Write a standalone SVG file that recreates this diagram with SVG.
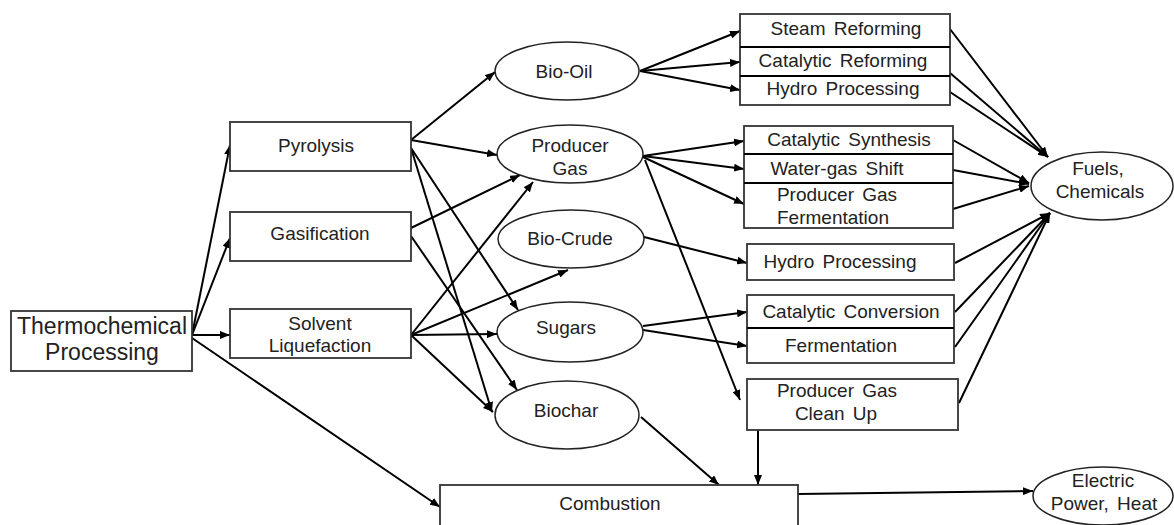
<svg xmlns="http://www.w3.org/2000/svg" width="1174" height="525" viewBox="0 0 1174 525">
  <defs>
    <marker id="arrow" markerUnits="userSpaceOnUse" markerWidth="10" markerHeight="8" refX="10" refY="4" orient="auto">
      <path d="M0,0 L10,4 L0,8 Z" fill="#000"/>
    </marker>
    <style>
      .box { fill: #fff; stroke: #333; stroke-width: 1.8; }
      .oval { fill: #fff; stroke: #222; stroke-width: 1.5; }
      .lbl { font-family: "Liberation Sans", Arial, sans-serif; font-size: 19px; fill: #222; text-anchor: middle; word-spacing: 3px; }
      .big { font-size: 23px; word-spacing: 0; }
      .edge { stroke: #000; stroke-width: 2; fill: none; marker-end: url(#arrow); }
      .plain { stroke: #000; stroke-width: 2; fill: none; }
    </style>
  </defs>
  <rect width="1174" height="525" fill="#fff"/>

  <!-- connectors -->
  <g id="connectors">
    <!-- from Thermochemical Processing -->
    <line class="edge" x1="192" y1="335" x2="230" y2="145"/>
    <line class="edge" x1="192" y1="335" x2="230" y2="238"/>
    <line class="edge" x1="192" y1="335" x2="230" y2="335"/>
    <line class="edge" x1="192" y1="338" x2="440" y2="507"/>
    <!-- from Pyrolysis -->
    <line class="edge" x1="411" y1="140" x2="495" y2="72"/>
    <line class="edge" x1="411" y1="140" x2="497" y2="155"/>
    <line class="edge" x1="411" y1="148" x2="518" y2="310"/>
    <line class="edge" x1="411" y1="148" x2="492" y2="412"/>
    <!-- from Gasification -->
    <line class="edge" x1="411" y1="228" x2="520" y2="175"/>
    <line class="edge" x1="411" y1="236" x2="517" y2="390"/>
    <!-- from Solvent Liquefaction -->
    <line class="edge" x1="411" y1="335" x2="533" y2="182"/>
    <line class="edge" x1="411" y1="335" x2="568" y2="270"/>
    <line class="edge" x1="411" y1="335" x2="497" y2="334"/>
    <line class="edge" x1="411" y1="335" x2="493" y2="412"/>
    <!-- from Bio-Oil -->
    <line class="edge" x1="640" y1="71" x2="740" y2="31"/>
    <line class="edge" x1="640" y1="71" x2="740" y2="62"/>
    <line class="edge" x1="640" y1="71" x2="740" y2="90"/>
    <!-- from Producer Gas -->
    <line class="edge" x1="643" y1="156" x2="744" y2="141"/>
    <line class="edge" x1="643" y1="156" x2="744" y2="169"/>
    <line class="edge" x1="643" y1="157" x2="744" y2="204"/>
    <line class="edge" x1="645" y1="160" x2="740" y2="400"/>
    <!-- from Bio-Crude -->
    <line class="edge" x1="644" y1="237" x2="747" y2="263"/>
    <!-- from Sugars -->
    <line class="edge" x1="643" y1="326" x2="747" y2="312"/>
    <line class="edge" x1="643" y1="330" x2="747" y2="346"/>
    <!-- into Combustion -->
    <line class="edge" x1="641" y1="417" x2="719" y2="485"/>
    <line class="edge" x1="758" y1="430" x2="758" y2="485"/>
    <!-- Combustion to Electric Power, Heat -->
    <line class="edge" x1="798" y1="494" x2="1033" y2="491"/>
    <!-- into Fuels, Chemicals -->
    <line class="edge" x1="950" y1="29" x2="1048" y2="157"/>
    <line class="edge" x1="950" y1="73" x2="1048" y2="157"/>
    <line class="edge" x1="950" y1="92" x2="1048" y2="157"/>
    <line class="edge" x1="953" y1="140" x2="1029" y2="183"/>
    <line class="edge" x1="953" y1="170" x2="1029" y2="184"/>
    <line class="edge" x1="953" y1="209" x2="1029" y2="186"/>
    <line class="edge" x1="955" y1="263" x2="1050" y2="213"/>
    <line class="edge" x1="955" y1="312" x2="1050" y2="213"/>
    <line class="edge" x1="955" y1="347" x2="1050" y2="213"/>
    <line class="edge" x1="959" y1="403" x2="1050" y2="213"/>
  </g>

  <g id="thermochemical-processing">
    <rect class="box" x="11" y="311" width="181" height="60"/>
    <text class="lbl big" x="102" y="334">Thermochemical</text>
    <text class="lbl big" x="102" y="360">Processing</text>
  </g>

  <g id="pyrolysis">
    <rect class="box" x="230" y="122" width="181" height="49"/>
    <text class="lbl" x="316" y="152">Pyrolysis</text>
  </g>
  <g id="gasification">
    <rect class="box" x="230" y="212" width="181" height="49"/>
    <text class="lbl" x="320" y="240">Gasification</text>
  </g>
  <g id="solvent-liquefaction">
    <rect class="box" x="230" y="309" width="181" height="49"/>
    <text class="lbl" x="320" y="330">Solvent</text>
    <text class="lbl" x="320" y="352">Liquefaction</text>
  </g>

  <g id="bio-oil">
    <ellipse class="oval" cx="567" cy="71" rx="72" ry="29"/>
    <text class="lbl" x="564" y="78">Bio-Oil</text>
  </g>
  <g id="producer-gas">
    <ellipse class="oval" cx="570" cy="154" rx="73" ry="29"/>
    <text class="lbl" x="570" y="152">Producer</text>
    <text class="lbl" x="570" y="175">Gas</text>
  </g>
  <g id="bio-crude">
    <ellipse class="oval" cx="571" cy="239" rx="73" ry="29"/>
    <text class="lbl" x="570" y="245">Bio-Crude</text>
  </g>
  <g id="sugars">
    <ellipse class="oval" cx="570" cy="332" rx="73" ry="30"/>
    <text class="lbl" x="566" y="334">Sugars</text>
  </g>
  <g id="biochar">
    <ellipse class="oval" cx="567" cy="415" rx="72" ry="34"/>
    <text class="lbl" x="566" y="417">Biochar</text>
  </g>

  <g id="bio-oil-upgrading">
    <rect class="box" x="740" y="14" width="210" height="91"/>
    <line class="plain" x1="740" y1="47" x2="950" y2="47" stroke-width="1.5"/>
    <line class="plain" x1="740" y1="76" x2="950" y2="76" stroke-width="1.5"/>
    <text class="lbl" x="846" y="35">Steam Reforming</text>
    <text class="lbl" x="843" y="67">Catalytic Reforming</text>
    <text class="lbl" x="843" y="95">Hydro Processing</text>
  </g>

  <g id="producer-gas-upgrading">
    <rect class="box" x="744" y="126" width="209" height="102"/>
    <line class="plain" x1="744" y1="154" x2="953" y2="154" stroke-width="1.5"/>
    <line class="plain" x1="744" y1="183" x2="953" y2="183" stroke-width="1.5"/>
    <text class="lbl" x="849" y="146">Catalytic Synthesis</text>
    <text class="lbl" x="837" y="175">Water-gas Shift</text>
    <text class="lbl" x="837" y="201">Producer Gas</text>
    <text class="lbl" x="833" y="224">Fermentation</text>
  </g>

  <g id="hydro-processing">
    <rect class="box" x="747" y="244" width="207" height="36"/>
    <text class="lbl" x="840" y="268">Hydro Processing</text>
  </g>

  <g id="sugar-upgrading">
    <rect class="box" x="747" y="295" width="207" height="68"/>
    <line class="plain" x1="747" y1="328" x2="954" y2="328" stroke-width="1.5"/>
    <text class="lbl" x="851" y="318">Catalytic Conversion</text>
    <text class="lbl" x="841" y="352">Fermentation</text>
  </g>

  <g id="producer-gas-clean-up">
    <rect class="box" x="747" y="379" width="211" height="51"/>
    <text class="lbl" x="837" y="397">Producer Gas</text>
    <text class="lbl" x="836" y="420">Clean Up</text>
  </g>

  <g id="combustion">
    <rect class="box" x="440" y="485" width="358" height="50"/>
    <text class="lbl" x="610" y="510">Combustion</text>
  </g>

  <g id="fuels-chemicals">
    <ellipse class="oval" cx="1102" cy="186" rx="71" ry="34"/>
    <text class="lbl" x="1098" y="175">Fuels,</text>
    <text class="lbl" x="1100" y="198">Chemicals</text>
  </g>

  <g id="electric-power-heat">
    <ellipse class="oval" cx="1103" cy="496" rx="70" ry="29"/>
    <text class="lbl" x="1103" y="487">Electric</text>
    <text class="lbl" x="1104" y="510">Power, Heat</text>
  </g>
</svg>
